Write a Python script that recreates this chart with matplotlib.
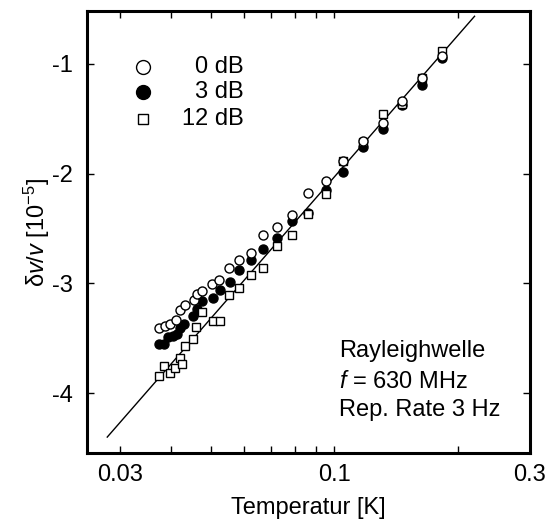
import matplotlib
matplotlib.use("Agg")
import matplotlib.pyplot as plt
import numpy as np
from matplotlib.ticker import FixedLocator, FixedFormatter, NullFormatter

plt.rcParams['font.family'] = ['Liberation Sans', 'DejaVu Sans']
plt.rcParams['mathtext.fontset'] = 'custom'
plt.rcParams['mathtext.rm'] = 'Liberation Sans'
plt.rcParams['mathtext.it'] = 'Liberation Sans:italic'
plt.rcParams['axes.unicode_minus'] = False

# 0 dB (open circles)
T0 = [0.0374, 0.0386, 0.0397, 0.0411, 0.0420, 0.0432, 0.0455, 0.0461, 0.0474, 0.0502,
      0.0524, 0.0554, 0.0586, 0.0624, 0.0669, 0.0726, 0.0788, 0.0862, 0.0951, 0.1052,
      0.1174, 0.1313, 0.1464, 0.1634, 0.1828]
Y0 = [-3.41, -3.39, -3.37, -3.33, -3.24, -3.20, -3.15, -3.10, -3.07, -3.01,
      -2.97, -2.86, -2.79, -2.72, -2.56, -2.49, -2.38, -2.18, -2.07, -1.89,
      -1.70, -1.54, -1.34, -1.13, -0.93]
# 3 dB (filled circles)
T3 = [0.0374, 0.0383, 0.0393, 0.0403, 0.0412, 0.0420, 0.0430, 0.0452, 0.0461, 0.0476,
      0.0504, 0.0526, 0.0556, 0.0586, 0.0625, 0.0670, 0.0726, 0.0788, 0.0862, 0.0951,
      0.1052, 0.1174, 0.1313, 0.1464, 0.1634, 0.1828]
Y3 = [-3.55, -3.55, -3.49, -3.48, -3.46, -3.41, -3.37, -3.30, -3.23, -3.16,
      -3.13, -3.06, -2.99, -2.88, -2.79, -2.69, -2.59, -2.43, -2.36, -2.15,
      -1.99, -1.76, -1.59, -1.38, -1.19, -0.95]
# 12 dB (open squares)
T12 = [0.0374, 0.0384, 0.0398, 0.0408, 0.0420, 0.0425, 0.0432, 0.0452, 0.0460, 0.0476,
       0.0506, 0.0526, 0.0554, 0.0586, 0.0625, 0.0668, 0.0726, 0.0788, 0.0862, 0.0951,
       0.1052, 0.1174, 0.1313, 0.1464, 0.1634, 0.1828]
Y12 = [-3.84, -3.75, -3.82, -3.77, -3.68, -3.73, -3.57, -3.51, -3.40, -3.26,
       -3.34, -3.34, -3.11, -3.04, -2.92, -2.86, -2.66, -2.56, -2.37, -2.19,
       -1.89, -1.71, -1.46, -1.37, -1.13, -0.88]
# fitted line endpoints
T_fit = [0.0279, 0.2197]
Y_fit = [-4.40, -0.568]

x_major = [0.03, 0.1, 0.3]
x_major_labels = ['0.03', '0.1', '0.3']
x_minor = [0.04, 0.05, 0.06, 0.07, 0.08, 0.09, 0.2]
y_ticks = [-1, -2, -3, -4]

FS = 17

fig = plt.figure(figsize=(5.52, 5.29), dpi=100)
ax = fig.add_axes([87/552, 1 - 453/529, 443/552, 442/529])

ax.plot(T_fit, Y_fit, color='black', lw=1.0, zorder=1)
ax.plot(T0, Y0, 'o', mfc='white', mec='black', ms=6.5, mew=1.0, zorder=3)
ax.plot(T3, Y3, 'o', mfc='black', mec='black', ms=6.5, mew=1.0, zorder=2)
ax.plot(T12, Y12, 's', mfc='white', mec='black', ms=5.6, mew=1.0, zorder=2)

ax.set_xscale('log')
ax.set_xlim(0.0249, 0.3)
ax.set_ylim(-4.545, -0.52)

ax.xaxis.set_major_locator(FixedLocator(x_major))
ax.xaxis.set_major_formatter(FixedFormatter(x_major_labels))
ax.xaxis.set_minor_locator(FixedLocator(x_minor))
ax.xaxis.set_minor_formatter(NullFormatter())
ax.set_yticks(y_ticks)
ax.set_yticklabels([str(v) for v in y_ticks])

ax.tick_params(which='both', direction='in', top=True, right=True,
               length=5, width=1.0, labelsize=FS)
ax.tick_params(axis='x', which='major', pad=8)
ax.tick_params(axis='y', which='major', pad=10)
for s in ax.spines.values():
    s.set_linewidth(2.2)

ax.set_xlabel('Temperatur [K]', fontsize=FS, labelpad=8)
ax.set_ylabel(r'δ$\mathit{v}$/$\mathit{v}$ [10$^{-5}$]', fontsize=FS, labelpad=0)

# legend (manual)
leg_rows = [(0.874, 'o', 'white', 10, '0 dB'),
            (0.817, 'o', 'black', 10, '3 dB'),
            (0.756, 's', 'white', 7.5, '12 dB')]
for yy, mk, fc, ms, lab in leg_rows:
    ax.plot([0.126], [yy], mk, mfc=fc, mec='black', ms=ms, mew=1.0,
            transform=ax.transAxes, clip_on=False)
    ax.text(0.354, yy, lab, transform=ax.transAxes, ha='right', va='center', fontsize=FS)

# annotation
ax.text(0.569, 1 - (351 - 11) / 442, 'Rayleighwelle', transform=ax.transAxes,
        ha='left', va='center', fontsize=FS)
ax.text(0.569, 1 - (381.7 - 11) / 442, r'$\mathit{f}$ = 630 MHz', transform=ax.transAxes,
        ha='left', va='center', fontsize=FS)
ax.text(0.569, 1 - (410 - 11) / 442, 'Rep. Rate 3 Hz', transform=ax.transAxes,
        ha='left', va='center', fontsize=FS)

fig.savefig('out.png', dpi=100)
